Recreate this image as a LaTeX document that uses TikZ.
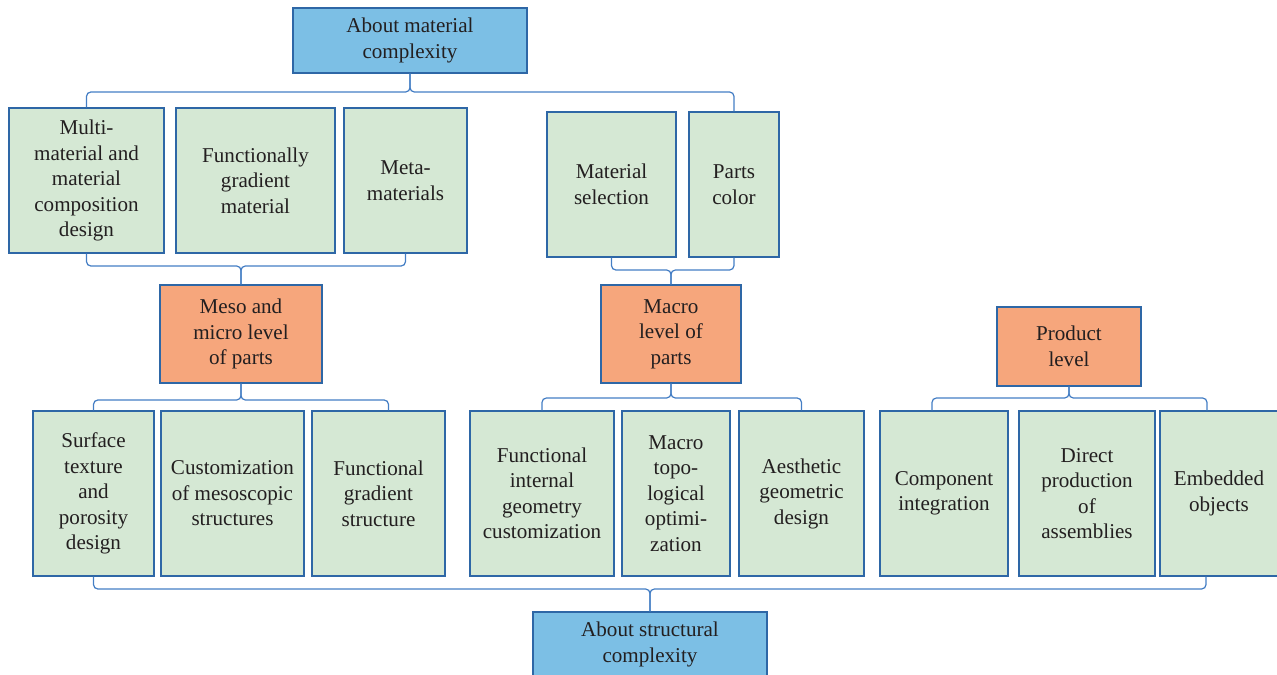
\documentclass[tikz,border=0pt]{standalone}
\usepackage{fontspec}
\setmainfont{Liberation Serif}
\definecolor{bluefill}{RGB}{124,191,229}
\definecolor{orangefill}{RGB}{246,166,124}
\definecolor{greenfill}{RGB}{213,232,212}
\definecolor{edge}{RGB}{46,103,166}
\definecolor{bracecol}{RGB}{68,126,196}
\definecolor{ink}{RGB}{35,31,32}

\begin{document}
\begin{tikzpicture}[x=0.2mm,y=-0.2mm,
  box/.style={draw=edge, line width=0.7pt, align=center, inner sep=0pt,
    font=\fontsize{12}{14.5}\selectfont, text=ink},
  cplx/.style={box, fill=bluefill, minimum width=46.8mm, minimum height=13mm},
  lvl/.style={box, fill=orangefill},
  leaf/.style={box, fill=greenfill},
  brc/.style={draw=bracecol, line width=0.7pt, rounded corners=2.5pt}]
\useasboundingbox (0,0) rectangle (1277,675);
\clip (0,0) rectangle (1277,675);
% material complexity
\node[cplx] (amc) at (410,40.5) {About material\\complexity};
\node[leaf, minimum width=31mm, minimum height=29mm] (mmc) at (86.5,180.5) {Multi-\\material and\\material\\composition\\design};
\node[leaf, minimum width=31.8mm, minimum height=29mm] (fgm) at (255.5,180.5) {Functionally\\gradient\\material};
\node[leaf, minimum width=24.6mm, minimum height=29mm] (meta) at (405.5,180.5) {Meta-\\materials};
\node[leaf, minimum width=25.8mm, minimum height=29mm] (mats) at (611.5,184.5) {Material\\selection};
\node[leaf, minimum width=18mm, minimum height=29mm] (pcol) at (734,184.5) {Parts\\color};
% levels
\node[lvl, minimum width=32.4mm, minimum height=19.6mm] (meso) at (241,334) {Meso and\\micro level\\of parts};
\node[lvl, minimum width=28mm, minimum height=19.6mm] (macro) at (671,334) {Macro\\level of\\parts};
\node[lvl, minimum width=28.8mm, minimum height=15.8mm] (prod) at (1069,346.5) {Product\\level};
% structural complexity
\node[leaf, minimum width=24.2mm, minimum height=33mm] (sur) at (93.5,493.5) {Surface\\texture\\and\\porosity\\design};
\node[leaf, minimum width=28.6mm, minimum height=33mm] (cms) at (232.5,493.5) {Customization\\of mesoscopic\\structures};
\node[leaf, minimum width=26.6mm, minimum height=33mm] (fgs) at (378.5,493.5) {Functional\\gradient\\structure};
\node[leaf, minimum width=28.8mm, minimum height=33mm] (fig) at (542,493.5) {Functional\\internal\\geometry\\customization};
\node[leaf, minimum width=21.6mm, minimum height=33mm] (mto) at (676,493.5) {Macro\\topo-\\logical\\optimi-\\zation};
\node[leaf, minimum width=25mm, minimum height=33mm] (agd) at (801.5,493.5) {Aesthetic\\geometric\\design};
\node[leaf, minimum width=25.6mm, minimum height=33mm] (cpi) at (944,493.5) {Component\\integration};
\node[leaf, minimum width=27.2mm, minimum height=33mm] (dpa) at (1087,493.5) {Direct\\production\\of\\assemblies};
\node[leaf, minimum width=23.6mm, minimum height=33mm] (emb) at (1219,493.5) {Embedded\\objects};
\node[cplx] (asc) at (650,644.5) {About structural\\complexity};
% braces
\coordinate (y1) at (0,92);
\coordinate (y2) at (0,266);
\coordinate (y3) at (0,270);
\coordinate (y4) at (0,400);
\coordinate (y5) at (0,398);
\coordinate (y6) at (0,589);
\draw[brc] (mmc.north) |- (amc.south |- y1) -- (amc.south);
\draw[brc] (pcol.north) |- (amc.south |- y1) -- (amc.south);
\draw[brc] (mmc.south) |- (meso.north |- y2) -- (meso.north);
\draw[brc] (meta.south) |- (meso.north |- y2) -- (meso.north);
\draw[brc] (mats.south) |- (macro.north |- y3) -- (macro.north);
\draw[brc] (pcol.south) |- (macro.north |- y3) -- (macro.north);
\draw[brc] (sur.north) |- (meso.south |- y4) -- (meso.south);
\draw[brc] ([xshift=2mm]fgs.north) |- (meso.south |- y4) -- (meso.south);
\draw[brc] (fig.north) |- (macro.south |- y5) -- (macro.south);
\draw[brc] (agd.north) |- (macro.south |- y5) -- (macro.south);
\draw[brc] ([xshift=-2.4mm]cpi.north) |- (prod.south |- y5) -- (prod.south);
\draw[brc] ([xshift=-2.4mm]emb.north) |- (prod.south |- y5) -- (prod.south);
\draw[brc] (sur.south) |- (asc.north |- y6) -- (asc.north);
\draw[brc] ([xshift=-2.6mm]emb.south) |- (asc.north |- y6) -- (asc.north);
\end{tikzpicture}
\end{document}
